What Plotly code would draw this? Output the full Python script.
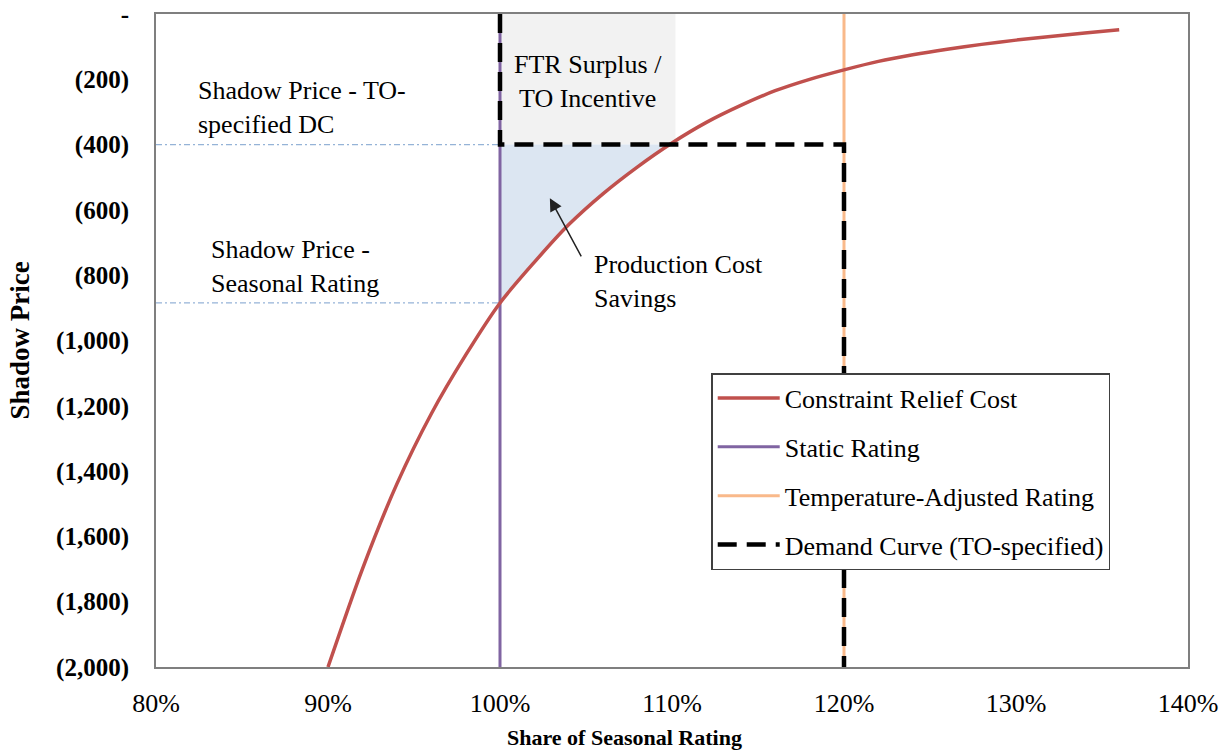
import numpy as np
import plotly.graph_objects as go

# ---------------- data ----------------
share_pct = [90, 92, 94, 96, 98, 100, 102, 104, 106, 108, 110, 112, 114, 116,
             118, 120, 122, 124, 126, 128, 130, 132, 134, 136]
relief_cost = [-2000, -1700, -1440, -1225, -1045, -885, -760, -645, -550, -468,
               -395, -332, -280, -235, -200, -171, -145, -125, -108, -93,
               -80, -69, -58, -48]

static_rating = 100
temp_adj_rating = 120
demand_price = -400
seasonal_price = -885
ftr_box_right = 110.2

y_ticks = [0, -200, -400, -600, -800, -1000, -1200, -1400, -1600, -1800, -2000]
y_ticktext = ["-", "(200)", "(400)", "(600)", "(800)", "(1,000)", "(1,200)",
              "(1,400)", "(1,600)", "(1,800)", "(2,000)"]
x_ticks = [80, 90, 100, 110, 120, 130, 140]
x_ticktext = ["80%", "90%", "100%", "110%", "120%", "130%", "140%"]

FONT = "Liberation Serif"

# ---------------- derived: production cost savings polygon ----------------
xs = np.array(share_pct, dtype=float)
ys = np.array(relief_cost, dtype=float)
x_cross = float(np.interp(demand_price, ys, xs))
mask = (xs > static_rating) & (xs < x_cross)
poly_x = [static_rating, static_rating] + list(xs[mask]) + [x_cross, static_rating]
poly_y = [demand_price, seasonal_price] + list(ys[mask]) + [demand_price, demand_price]

fig = go.Figure()

# savings area
fig.add_trace(go.Scatter(x=poly_x, y=poly_y, mode="lines", fill="toself",
                         fillcolor="#DCE6F2", line=dict(width=0),
                         showlegend=False, hoverinfo="skip"))

# reference dash-dot lines
for yv in [demand_price, seasonal_price]:
    fig.add_trace(go.Scatter(x=[80, static_rating], y=[yv, yv], mode="lines",
                             line=dict(color="#95B3D7", width=1.3,
                                       dash="6px,3px,2px,3px"),
                             showlegend=False, hoverinfo="skip"))

# static rating
fig.add_trace(go.Scatter(x=[static_rating, static_rating], y=[-2000, 0], mode="lines",
                         name="Static Rating", line=dict(color="#8064A2", width=3),
                         legendrank=2, legendgroup="b"))
# temperature adjusted rating
fig.add_trace(go.Scatter(x=[temp_adj_rating, temp_adj_rating], y=[-2000, 0], mode="lines",
                         name="Temperature-Adjusted Rating",
                         line=dict(color="#F9B98A", width=3),
                         legendrank=3, legendgroup="c"))
# constraint relief cost curve
fig.add_trace(go.Scatter(x=share_pct, y=relief_cost, mode="lines",
                         name="Constraint Relief Cost",
                         line=dict(color="#C0504D", width=3.5, shape="spline", smoothing=0.8),
                         legendrank=1, legendgroup="a"))
# demand curve
fig.add_trace(go.Scatter(x=[static_rating, static_rating, temp_adj_rating, temp_adj_rating],
                         y=[0, demand_price, demand_price, -2000], mode="lines",
                         name="Demand Curve (TO-specified)",
                         line=dict(color="black", width=4.5, dash="19px,10px"),
                         legendrank=4, legendgroup="d"))

# FTR surplus box
fig.add_shape(type="rect", x0=static_rating, x1=ftr_box_right, y0=demand_price, y1=0,
              xref="x", yref="y", fillcolor="#F2F2F2", line=dict(width=0), layer="below")

txt = dict(family=FONT, size=26, color="black")
fig.add_annotation(x=82.33, y=-285, xref="x", yref="y", xanchor="left", yanchor="middle",
                   text="Shadow Price - TO-<br>specified DC", showarrow=False,
                   align="left", font=txt)
fig.add_annotation(x=83.1, y=-772, xref="x", yref="y", xanchor="left", yanchor="middle",
                   text="Shadow Price -<br>Seasonal Rating", showarrow=False,
                   align="left", font=txt)
fig.add_annotation(x=105.1, y=-208, xref="x", yref="y", xanchor="center", yanchor="middle",
                   text="FTR Surplus /<br>TO Incentive", showarrow=False,
                   align="center", font=txt)
fig.add_annotation(x=105.35, y=-818, xref="x", yref="y", xanchor="left", yanchor="middle",
                   text="Production Cost<br>Savings", showarrow=False,
                   align="left", font=txt)
# arrow
fig.add_annotation(x=102.9, y=-564, ax=104.77, ay=-747, xref="x", yref="y",
                   axref="x", ayref="y", text="", showarrow=True,
                   arrowhead=2, arrowsize=1.7, arrowwidth=1.5, arrowcolor="#222222")

# axis titles
fig.add_annotation(x=-0.1318, y=0.5, xref="paper", yref="paper", text="Shadow Price",
                   textangle=-90, showarrow=False, xanchor="center", yanchor="middle",
                   font=dict(family=FONT, size=27, color="black", weight="bold"))
fig.add_annotation(x=0.4535, y=(667 - 737) / 653, xref="paper", yref="paper",
                   text="Share of Seasonal Rating", showarrow=False,
                   xanchor="center", yanchor="middle",
                   font=dict(family=FONT, size=22, color="black", weight="bold"))

fig.update_layout(
    width=1228, height=753,
    margin=dict(l=156, r=40, t=14, b=86, autoexpand=False),
    paper_bgcolor="white", plot_bgcolor="white",
    font=dict(family=FONT, color="black"),
    xaxis=dict(range=[80, 140], tickvals=x_ticks, ticktext=x_ticktext,
               showgrid=False, zeroline=False, showline=True, mirror=True,
               linecolor="#7F7F7F", linewidth=2, ticks="", automargin=False,
               tickfont=dict(family=FONT, size=26, color="black"),
               ticklabelstandoff=12),
    yaxis=dict(range=[-2000, 0], tickvals=y_ticks, ticktext=y_ticktext,
               showgrid=False, zeroline=False, showline=True, mirror=True,
               linecolor="#7F7F7F", linewidth=2, ticks="", automargin=False,
               tickfont=dict(family=FONT, size=25, color="black", weight="bold"),
               ticklabelstandoff=20),
    legend=dict(x=0.538, y=0.450, xanchor="left", yanchor="top",
                bgcolor="white", bordercolor="#404040", borderwidth=1.5,
                font=dict(family=FONT, size=26, color="black"),
                tracegroupgap=12, itemwidth=62, traceorder="grouped"),
    showlegend=True,
)

fig.write_html("out.html", config={"displayModeBar": False},
               post_script="document.body.style.margin='0';document.body.style.overflow='hidden';")
